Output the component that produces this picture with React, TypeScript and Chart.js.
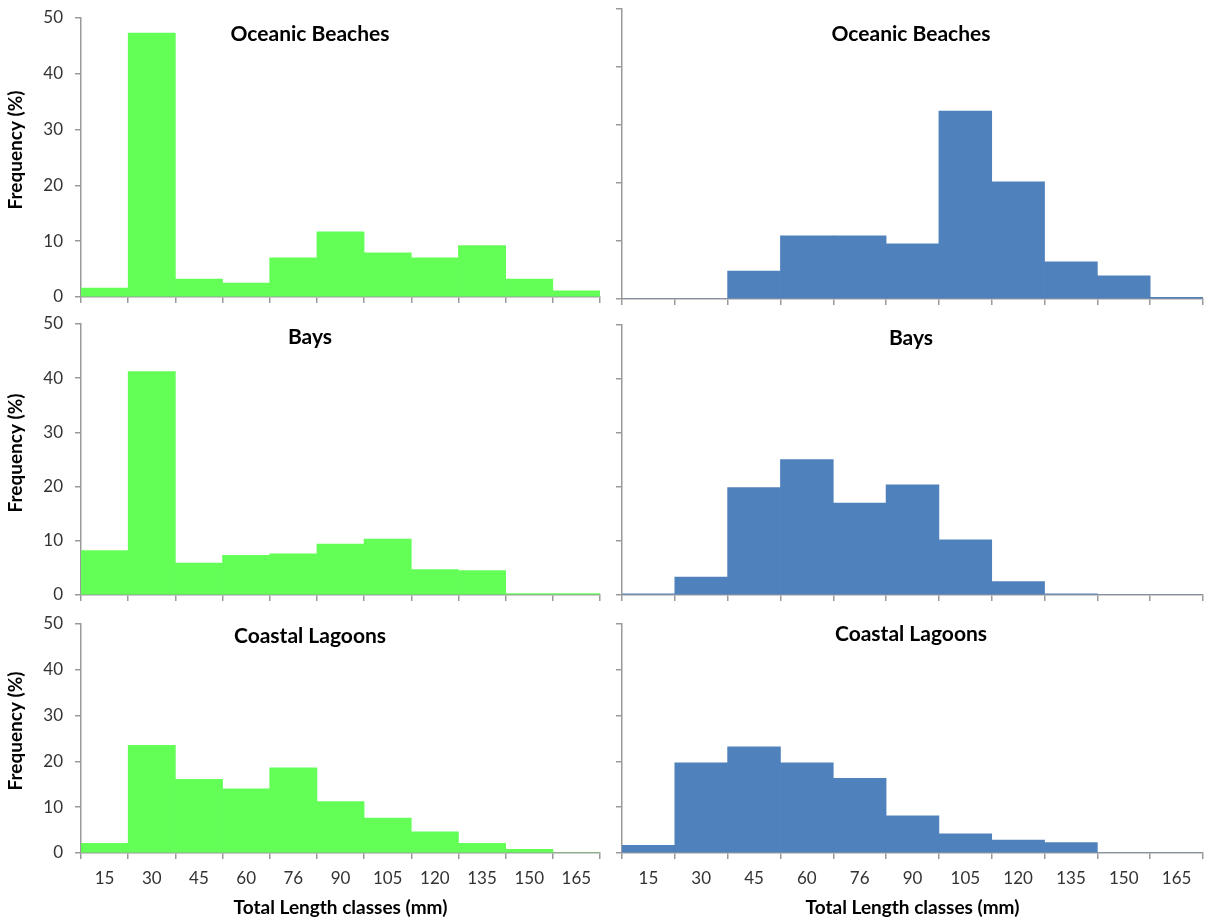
import React, { useEffect, useRef } from 'react';
import { Chart, registerables } from 'chart.js';

Chart.register(...registerables);

// ---------- data ----------
const lengthClasses = ['15', '30', '45', '60', '76', '90', '105', '120', '135', '150', '165'];
const yTicks = [0, 10, 20, 30, 40, 50];

const oceanicLeft = [1.6, 47.3, 3.2, 2.5, 7.0, 11.7, 7.9, 7.0, 9.2, 3.2, 1.1];
const oceanicRight = [0, 0, 4.8, 10.9, 10.9, 9.5, 32.4, 20.2, 6.4, 4.0, 0.3];
const baysLeft = [8.2, 41.2, 5.9, 7.3, 7.6, 9.4, 10.3, 4.7, 4.5, 0.25, 0.25];
const baysRight = [0.2, 3.3, 19.9, 25.1, 17.0, 20.4, 10.2, 2.5, 0.2, 0, 0];
const lagoonsLeft = [2.1, 23.5, 16.1, 14.0, 18.6, 11.2, 7.6, 4.6, 2.1, 0.8, 0];
const lagoonsRight = [1.7, 19.7, 23.2, 19.7, 16.3, 8.1, 4.2, 2.8, 2.3, 0, 0];

const titleOceanic = 'Oceanic Beaches';
const titleBays = 'Bays';
const titleLagoons = 'Coastal Lagoons';
const yAxisTitle = 'Frequency (%)';
const xAxisTitle = 'Total Length classes (mm)';

// ---------- styles ----------
const FONT = 'Lato, "Open Sans", "DejaVu Sans", sans-serif';
const GREEN = '#63FF57';
const BLUE = '#4F81BD';
const AXIS = '#9a9a9a';
const TICK_TEXT = '#333333';

const textPlugin = {
  id: 'panelText',
  afterDraw(chart: any, _args: any, opts: any) {
    const ctx = chart.ctx;
    (opts.items || []).forEach((it: any) => {
      ctx.save();
      ctx.font = `${it.weight} ${it.size}px ${FONT}`;
      ctx.fillStyle = it.color;
      ctx.textAlign = 'center';
      ctx.textBaseline = 'middle';
      ctx.translate(it.x, it.y);
      if (it.rotate) ctx.rotate(it.rotate);
      ctx.fillText(it.text, 0, 0);
      ctx.restore();
    });
  },
};

type PanelProps = {
  values: number[];
  color: string;
  title: string;
  left: number;
  width: number;
  plotLeft: number;
  plotRight: number;
  plotTop: number;
  plotBottom: number;
  titleX: number;
  titleY: number;
  yTitleY: number;
  yLabels: boolean;
  xLabels: boolean;
};

function Panel(p: PanelProps) {
  const ref = useRef<HTMLCanvasElement>(null);
  const top = p.plotTop - 30;
  const bottom = p.xLabels ? 919 : p.plotBottom + 30;
  const height = bottom - top;
  useEffect(() => {
    const canvas = ref.current!;
    const yWidth = p.plotLeft - p.left;
    const xHeight = bottom - p.plotBottom;
    const items: any[] = [
      { text: p.title, x: p.titleX - p.left, y: p.titleY - top, size: 21, weight: 'bold', color: '#000' },
    ];
    if (p.yLabels) {
      items.push({
        text: yAxisTitle,
        x: 16,
        y: p.yTitleY - top,
        size: 19,
        weight: 'bold',
        color: '#000',
        rotate: -Math.PI / 2,
      });
    }
    if (p.xLabels) {
      items.push({
        text: xAxisTitle,
        x: (p.plotLeft + p.plotRight) / 2 - p.left,
        y: 908 - top,
        size: 19,
        weight: 'bold',
        color: '#000',
      });
    }
    const chart = new Chart(canvas, {
      type: 'bar',
      data: {
        labels: lengthClasses,
        datasets: [
          {
            data: p.values,
            backgroundColor: p.color,
            borderWidth: 0,
            barPercentage: 1,
            categoryPercentage: 1,
          },
        ],
      },
      options: {
        responsive: false,
        animation: false,
        events: [],
        layout: {
          padding: {
            left: 0,
            top: p.plotTop - top,
            right: p.left + p.width - p.plotRight,
            bottom: 0,
          },
        },
        plugins: {
          legend: { display: false },
          tooltip: { enabled: false },
          title: { display: false },
          panelText: { items },
        } as any,
        scales: {
          x: {
            type: 'category',
            offset: true,
            grid: {
              offset: true,
              drawOnChartArea: false,
              drawTicks: true,
              tickLength: 6,
              color: AXIS,
              lineWidth: 1.5,
            },
            border: { display: true, color: AXIS, width: 1.5 },
            ticks: {
              display: p.xLabels,
              color: TICK_TEXT,
              font: { family: FONT, size: 17 },
              padding: 9,
              maxRotation: 0,
              autoSkip: false,
            },
            afterFit: (s: any) => {
              s.height = xHeight;
            },
          },
          y: {
            type: 'linear',
            min: 0,
            max: 50,
            afterBuildTicks: (s: any) => {
              s.ticks = yTicks.map((v) => ({ value: v }));
            },
            grid: {
              drawOnChartArea: false,
              drawTicks: true,
              tickLength: 6,
              color: AXIS,
              lineWidth: 1.5,
            },
            border: { display: true, color: AXIS, width: 1.5 },
            ticks: {
              display: p.yLabels,
              color: TICK_TEXT,
              font: { family: FONT, size: 17 },
              padding: 12,
            },
            afterFit: (s: any) => {
              s.width = yWidth;
            },
          },
        },
      },
      plugins: [textPlugin],
    });
    return () => chart.destroy();
  }, []);
  return (
    <canvas
      ref={ref}
      width={p.width}
      height={height}
      style={{ position: 'absolute', left: p.left, top, width: p.width, height }}
    />
  );
}

const rows = [
  { plotTopL: 18, plotTopR: 9, bottomL: 297, bottomR: 299, titleYL: 34, titleYR: 34, yTitleY: 150, title: titleOceanic, l: oceanicLeft, r: oceanicRight, xLabels: false },
  { plotTopL: 324, plotTopR: 325, bottomL: 595, bottomR: 595, titleYL: 337, titleYR: 338, yTitleY: 453, title: titleBays, l: baysLeft, r: baysRight, xLabels: false },
  { plotTopL: 624, plotTopR: 624, bottomL: 853, bottomR: 853, titleYL: 636, titleYR: 634, yTitleY: 731, title: titleLagoons, l: lagoonsLeft, r: lagoonsRight, xLabels: true },
];

export default function App() {
  return (
    <div style={{ position: 'absolute', left: 0, top: 0, width: 1205, height: 919, background: '#fff', overflow: 'hidden' }}>
      {rows.map((r, i) => (
        <React.Fragment key={i}>
          <Panel
            values={r.l}
            color={GREEN}
            title={r.title}
            left={0}
            width={605}
            plotLeft={81}
            plotRight={600}
            plotTop={r.plotTopL}
            plotBottom={r.bottomL}
            titleX={310}
            titleY={r.titleYL}
            yTitleY={r.yTitleY}
            yLabels={true}
            xLabels={r.xLabels}
          />
          <Panel
            values={r.r}
            color={BLUE}
            title={r.title}
            left={605}
            width={600}
            plotLeft={622}
            plotRight={1203}
            plotTop={r.plotTopR}
            plotBottom={r.bottomR}
            titleX={911}
            titleY={r.titleYR}
            yTitleY={r.yTitleY}
            yLabels={false}
            xLabels={r.xLabels}
          />
        </React.Fragment>
      ))}
    </div>
  );
}
